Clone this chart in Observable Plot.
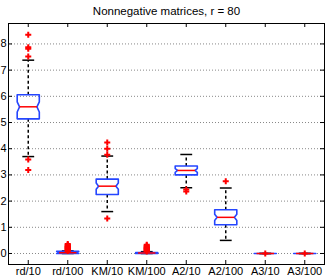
<!DOCTYPE html>
<html><head><meta charset="utf-8">
<script src="https://cdn.jsdelivr.net/npm/d3@7"></script>
<script src="https://cdn.jsdelivr.net/npm/@observablehq/plot@0.6"></script>
<style>
body{margin:0;background:#fff;font-family:"Liberation Sans",Arial,sans-serif;}
#title{width:327px;height:19px;box-sizing:border-box;padding-top:3px;text-align:center;font-size:11.5px;line-height:16px;color:#000;padding-left:6px;}
svg{display:block;}
</style></head><body>
<div id="title">Nonnegative matrices, r = 80</div>
<div id="chart"></div>
<script>
const categories = ["rd/10","rd/100","KM/10","KM/100","A2/10","A2/100","A3/10","A3/100"];
const q1        = [5.14, 0.00, 2.25, 0.00, 3.00, 1.10, 0, 0];
const median    = [5.60, 0.03, 2.57, 0.02, 3.17, 1.38, 0, 0];
const q3        = [6.06, 0.08, 2.84, 0.04, 3.34, 1.67, 0, 0];
const whiskerLo = [3.70, 0.00, 1.60, 0.00, 2.51, 0.50, 0, 0];
const whiskerHi = [7.38, 0.10, 3.72, 0.07, 3.78, 2.50, 0, 0];
const notchLo   = [5.40, 0.00, 2.45, 0.00, 3.10, 1.26, 0, 0];
const notchHi   = [5.79, 0.08, 2.69, 0.04, 3.24, 1.50, 0, 0];
const outliers  = [
  [8.35, 7.87, 7.82, 7.52, 3.59, 3.19],
  [0.10, 0.12, 0.14, 0.16, 0.18, 0.20, 0.22, 0.24, 0.26, 0.28, 0.30, 0.33, 0.36],
  [4.24, 4.00, 3.77, 1.34],
  [0.08, 0.10, 0.12, 0.14, 0.16, 0.18, 0.20, 0.22, 0.24, 0.27, 0.30, 0.33],
  [2.44, 2.37],
  [2.76],
  [0],
  [0]
];
const yTicks = [0, 1, 2, 3, 4, 5, 6, 7, 8];
const xDomain = [0.5, 8.5];
const yDomain = [-0.42, 8.78];

const W = 0.28, WI = 0.22, CAP = 0.15;
const idx = categories.map((c, i) => i);
const boxPts = [];
idx.forEach(i => {
  const x = i + 1;
  const pts = [
    [x - W, q1[i]], [x + W, q1[i]], [x + W, notchLo[i]], [x + WI, median[i]], [x + W, notchHi[i]],
    [x + W, q3[i]], [x - W, q3[i]], [x - W, notchHi[i]], [x - WI, median[i]], [x - W, notchLo[i]], [x - W, q1[i]]
  ];
  pts.forEach(([px, py]) => boxPts.push({c: categories[i], x: px, y: py}));
});
const outPts = [];
idx.forEach(i => outliers[i].forEach(v => outPts.push({x: i + 1, y: v})));

const blue = "#2546ff", red = "#ff0000";
const yTickLen = (yDomain[1] - yDomain[0]) * 4 / 241;
const xTickLen = (xDomain[1] - xDomain[0]) * 4 / 316;

const chart = Plot.plot({
  width: 327, height: 261,
  marginTop: 4, marginBottom: 16, marginLeft: 8, marginRight: 3,
  style: {fontFamily: "'Liberation Sans', Arial, sans-serif", fontSize: "11px", color: "#000", background: "#fff", overflow: "visible"},
  x: {domain: xDomain},
  y: {domain: yDomain},
  marks: [
    Plot.gridY(yTicks, {stroke: "#888", strokeOpacity: 1, strokeDasharray: "1,2"}),
    Plot.ruleY(yTicks, {y: d => d, x1: xDomain[0], x2: xDomain[0] + xTickLen, stroke: "#000"}),
    Plot.ruleY(yTicks, {y: d => d, x1: xDomain[1] - xTickLen, x2: xDomain[1], stroke: "#000"}),
    Plot.ruleX(idx, {x: i => i + 1, y1: yDomain[0], y2: yDomain[0] + yTickLen, stroke: "#000"}),
    Plot.ruleX(idx, {x: i => i + 1, y1: yDomain[1] - yTickLen, y2: yDomain[1], stroke: "#000"}),
    Plot.link(idx, {x1: i => i + 1, x2: i => i + 1, y1: i => q3[i], y2: i => whiskerHi[i], stroke: "#000", strokeWidth: 1.5, strokeDasharray: "3,2.5"}),
    Plot.link(idx, {x1: i => i + 1, x2: i => i + 1, y1: i => q1[i], y2: i => whiskerLo[i], stroke: "#000", strokeWidth: 1.5, strokeDasharray: "3,2.5"}),
    Plot.link(idx, {x1: i => i + 1 - CAP, x2: i => i + 1 + CAP, y1: i => whiskerHi[i], y2: i => whiskerHi[i], stroke: "#000", strokeWidth: 1.5}),
    Plot.link(idx, {x1: i => i + 1 - CAP, x2: i => i + 1 + CAP, y1: i => whiskerLo[i], y2: i => whiskerLo[i], stroke: "#000", strokeWidth: 1.5}),
    Plot.line(boxPts, {x: "x", y: "y", z: "c", stroke: blue, strokeWidth: 1.6, curve: "linear"}),
    Plot.link(idx, {x1: i => i + 1 - WI, x2: i => i + 1 + WI, y1: i => median[i], y2: i => median[i], stroke: red, strokeWidth: 1.5}),
    Plot.dot(outPts, {x: "x", y: "y", symbol: "plus", r: 2.1, stroke: red, strokeWidth: 2}),
    Plot.frame({stroke: "#000"}),
    Plot.axisY(yTicks, {tickSize: 0, tickPadding: 2, label: null, fontSize: 11}),
    Plot.axisX(idx.map(i => i + 1), {tickSize: 0, tickPadding: 3, label: null, tickFormat: d => categories[d - 1], fontSize: 11})
  ]
});
document.getElementById("chart").appendChild(chart);
</script>
</body></html>
